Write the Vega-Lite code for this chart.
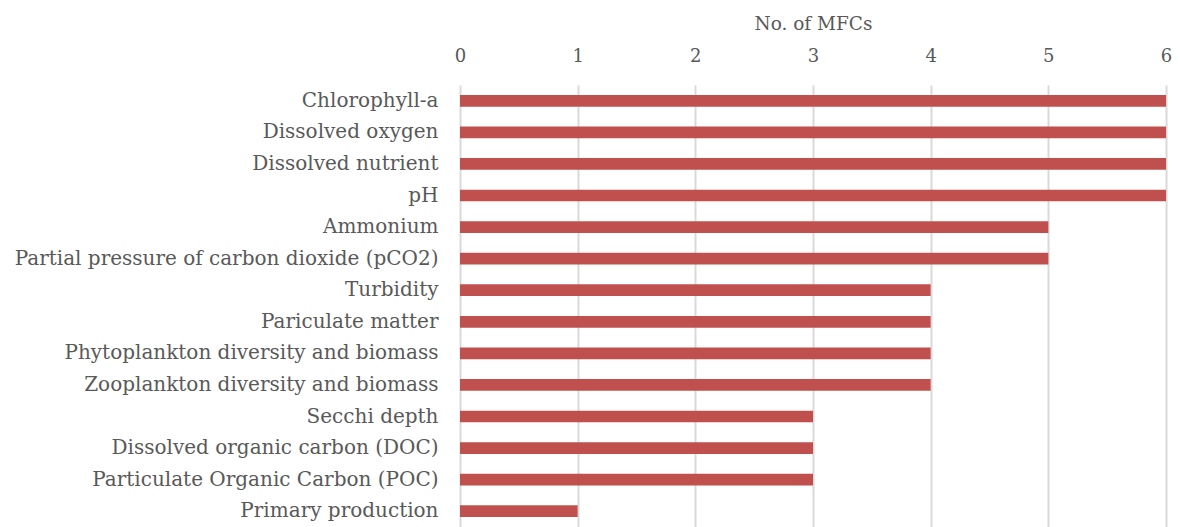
{
  "$schema": "https://vega.github.io/schema/vega-lite/v6.json",
  "width": 706,
  "height": 442,
  "autosize": {"type": "none"},
  "padding": {"left": 460, "top": 85, "right": 14, "bottom": 0},
  "background": "#ffffff",
  "config": {
    "view": {"stroke": null},
    "font": "DejaVu Serif"
  },
  "data": {
    "values": [
      {"parameter": "Chlorophyll-a", "mfcs": 6},
      {"parameter": "Dissolved oxygen", "mfcs": 6},
      {"parameter": "Dissolved nutrient", "mfcs": 6},
      {"parameter": "pH", "mfcs": 6},
      {"parameter": "Ammonium", "mfcs": 5},
      {"parameter": "Partial pressure of carbon dioxide (pCO2)", "mfcs": 5},
      {"parameter": "Turbidity", "mfcs": 4},
      {"parameter": "Pariculate matter", "mfcs": 4},
      {"parameter": "Phytoplankton diversity and biomass", "mfcs": 4},
      {"parameter": "Zooplankton diversity and biomass", "mfcs": 4},
      {"parameter": "Secchi depth", "mfcs": 3},
      {"parameter": "Dissolved organic carbon (DOC)", "mfcs": 3},
      {"parameter": "Particulate Organic Carbon (POC)", "mfcs": 3},
      {"parameter": "Primary production", "mfcs": 1}
    ]
  },
  "mark": {"type": "bar", "color": "#C0504D"},
  "encoding": {
    "y": {
      "field": "parameter",
      "type": "nominal",
      "sort": null,
      "scale": {"paddingInner": 0.63, "paddingOuter": 0.315},
      "axis": {
        "title": null,
        "domain": false,
        "ticks": false,
        "labelFontSize": 20,
        "labelColor": "#595959",
        "labelPadding": 22,
        "labelLimit": 460
      }
    },
    "x": {
      "field": "mfcs",
      "type": "quantitative",
      "scale": {"domain": [0, 6], "nice": false},
      "axis": {
        "orient": "top",
        "title": "No. of MFCs",
        "titleFontSize": 18.5,
        "titleFontWeight": "normal",
        "titleColor": "#595959",
        "titlePadding": 14,
        "values": [0, 1, 2, 3, 4, 5, 6],
        "format": "d",
        "domain": false,
        "ticks": false,
        "grid": true,
        "gridColor": "#D9D9D9",
        "gridWidth": 2,
        "labelFlush": false,
        "labelFontSize": 18,
        "labelColor": "#595959",
        "labelPadding": 20
      }
    }
  }
}
